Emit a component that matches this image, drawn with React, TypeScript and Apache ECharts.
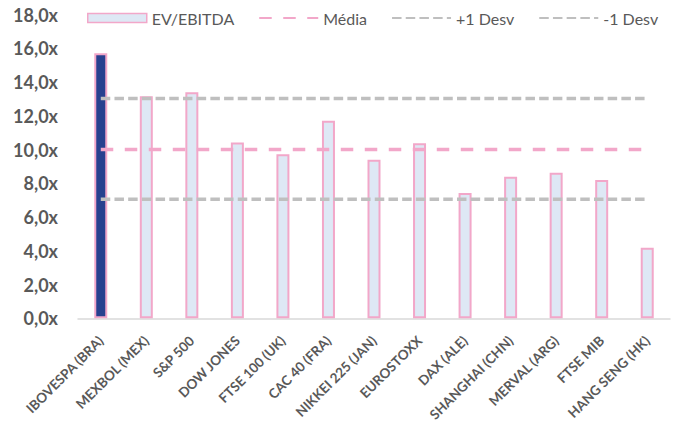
import React, { useEffect, useRef } from "react";
import * as echarts from "echarts";

const categories = [
  "IBOVESPA (BRA)",
  "MEXBOL (MEX)",
  "S&P 500",
  "DOW JONES",
  "FTSE 100 (UK)",
  "CAC 40 (FRA)",
  "NIKKEI 225 (JAN)",
  "EUROSTOXX",
  "DAX (ALE)",
  "SHANGHAI (CHN)",
  "MERVAL (ARG)",
  "FTSE MIB",
  "HANG SENG (HK)",
];
const evEbitda = [15.7, 13.15, 13.4, 10.42, 9.72, 11.7, 9.4, 10.37, 7.42, 8.38, 8.62, 8.2, 4.18];
const media = [10.0, 10.0, 10.0, 10.0, 10.0, 10.0, 10.0, 10.0, 10.0, 10.0, 10.0, 10.0, 10.0];
const plusDesv = [13.02, 13.02, 13.02, 13.02, 13.02, 13.02, 13.02, 13.02, 13.02, 13.02, 13.02, 13.02, 13.02];
const minusDesv = [7.06, 7.06, 7.06, 7.06, 7.06, 7.06, 7.06, 7.06, 7.06, 7.06, 7.06, 7.06, 7.06];

const FONT = "Lato, 'Open Sans', sans-serif";
const GRAY = "#595959";
const PINK = "#F2A7C9";
const LIGHT = "#DEE8F5";
const NAVY = "#27418F";
const DGRAY = "#BFBFBF";

export default function App() {
  const ref = useRef<HTMLDivElement>(null);
  useEffect(() => {
    if (!ref.current) return;
    const chart = echarts.init(ref.current, undefined, { renderer: "svg" });
    chart.setOption({
      animation: false,
      textStyle: { fontFamily: FONT },
      legend: {
        left: 82,
        top: 5,
        itemWidth: 59,
        itemHeight: 9,
        itemGap: 24,
        textStyle: { fontFamily: FONT, fontSize: 16, color: GRAY },
        data: [
          { name: "EV/EBITDA", icon: "rect", itemStyle: { color: LIGHT, borderColor: PINK, borderWidth: 1.5 } },
          { name: "Média", itemStyle: { opacity: 0 } },
          { name: "+1 Desv", itemStyle: { opacity: 0 } },
          { name: "-1 Desv", itemStyle: { opacity: 0 } },
        ],
      },
      grid: { left: 78, right: 5, top: 14.5, bottom: 106.7 },
      xAxis: {
        type: "category",
        data: categories,
        axisTick: { show: false },
        axisLine: { show: true, lineStyle: { color: "#D9D9D9", width: 1.5 } },
        axisLabel: {
          rotate: 45,
          interval: 0,
          margin: 20,
          fontFamily: FONT,
          fontSize: 13.5,
          fontWeight: "bold",
          color: GRAY,
        },
      },
      yAxis: {
        type: "value",
        min: 0,
        max: 18,
        interval: 2,
        splitLine: { show: false },
        axisLine: { show: false },
        axisTick: { show: false },
        axisLabel: {
          margin: 20,
          fontFamily: FONT,
          fontSize: 18,
          fontWeight: "bold",
          color: GRAY,
          formatter: (v: number) => v.toFixed(1).replace(".", ",") + "x",
        },
      },
      series: [
        {
          name: "EV/EBITDA",
          type: "bar",
          barWidth: 13,
          data: evEbitda.map((v, i) => ({
            value: v,
            itemStyle: { color: i === 0 ? NAVY : LIGHT },
          })),
          itemStyle: { color: LIGHT, borderColor: PINK, borderWidth: 2 },
          z: 2,
        },
        {
          name: "Média",
          type: "line",
          data: media,
          symbol: "none",
          lineStyle: { color: PINK, width: 3.5, type: [12.5, 11.5] },
          itemStyle: { color: PINK },
          z: 3,
        },
        {
          name: "+1 Desv",
          type: "line",
          data: plusDesv,
          symbol: "none",
          lineStyle: { color: DGRAY, width: 3.5, type: [9.5, 4.2] },
          itemStyle: { color: DGRAY },
          z: 3,
        },
        {
          name: "-1 Desv",
          type: "line",
          data: minusDesv,
          symbol: "none",
          lineStyle: { color: DGRAY, width: 3.5, type: [9.5, 4.2] },
          itemStyle: { color: DGRAY },
          z: 3,
        },
      ],
    });
    return () => chart.dispose();
  }, []);
  return (
    <div
      ref={ref}
      style={{ position: "fixed", left: 0, top: 0, width: 675, height: 425, background: "#fff" }}
    />
  );
}
